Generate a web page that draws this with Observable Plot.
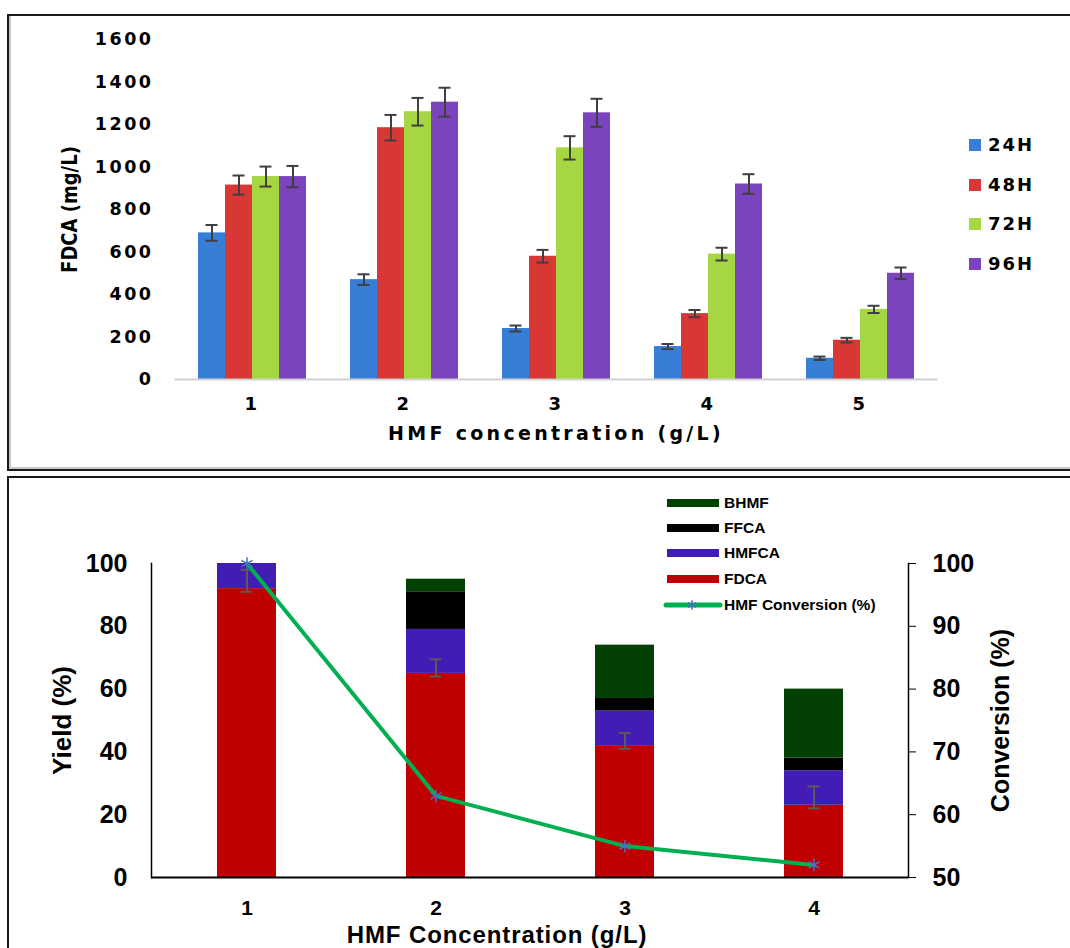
<!DOCTYPE html>
<html><head><meta charset="utf-8">
<script src="https://cdn.jsdelivr.net/npm/d3@7"></script>
<script src="https://cdn.jsdelivr.net/npm/@observablehq/plot@0.6"></script>
<style>
body{margin:0;background:#fff;width:1070px;height:948px;overflow:hidden;position:relative;}
#c1,#c2{position:absolute;left:0;}
#c1{top:0;} #c2{top:470px;}
.frameBox{position:absolute;box-sizing:border-box;pointer-events:none;z-index:5;}
#p1{left:7px;top:14px;width:1100px;height:457px;border:2px solid #1a1a1a;box-shadow:inset 2px 0 0 #c8c8c8, inset 0 -2px 0 #c8c8c8;}
#p2{left:7px;top:476px;width:1100px;height:520px;border:2px solid #1a1a1a;}
.leg{position:absolute;font-weight:bold;color:#000;white-space:nowrap;}
.leg1{font-family:'DejaVu Sans',sans-serif;font-size:18px;letter-spacing:2px;}
.leg2{font-family:'Liberation Sans',Arial,sans-serif;font-size:15.5px;}
.sw{position:absolute;}
</style>
</head><body>
<div id="c1"></div>
<div id="c2"></div>
<div id="legend1"></div>
<div id="legend2"></div>
<div class="frameBox" id="p1"></div>
<div class="frameBox" id="p2"></div>
<script>
// ---------- Top chart data ----------
const hmfConcTop = ["1","2","3","4","5"];
const times = ["24H","48H","72H","96H"];
const timeColors = ["#377fd6","#d93636","#a6d641","#7b43be"];
const fdca24 = [690, 470, 240, 155, 100];
const fdca48 = [915, 1185, 580, 310, 185];
const fdca72 = [955, 1260, 1090, 590, 330];
const fdca96 = [955, 1305, 1255, 920, 500];
const err24 = [37, 25, 14, 12, 8];
const err48 = [45, 60, 30, 17, 11];
const err72 = [47, 65, 55, 30, 17];
const err96 = [50, 68, 66, 46, 27];
const fdcaTicks = [0, 200, 400, 600, 800, 1000, 1200, 1400, 1600];

// ---------- Bottom chart data ----------
const hmfConcBottom = ["1","2","3","4"];
const products = ["FDCA","HMFCA","FFCA","BHMF"];
const productColors = ["#c00000","#421cb4","#000000","#034003"];
const yieldFDCA = [92, 65, 42, 23];
const yieldHMFCA = [8, 14, 11, 11];
const yieldFFCA = [0, 12, 4, 4];
const yieldBHMF = [0, 4, 17, 22];
const yieldErrLow = [91, 64, 41, 22];
const yieldErrHigh = [98, 69.5, 46, 29];
const conversion = [100, 63, 55, 52];
const yieldTicks = [0, 20, 40, 60, 80, 100];
const conversionTicks = [50, 60, 70, 80, 90, 100];
const legendOrder = ["BHMF","FFCA","HMFCA","FDCA"];

// ---------- Top chart ----------
const fdcaSeries = [fdca24, fdca48, fdca72, fdca96];
const errSeries = [err24, err48, err72, err96];
const topData = [];
hmfConcTop.forEach((c, i) => times.forEach((t, j) => {
  topData.push({cat: c, time: t, value: fdcaSeries[j][i], err: errSeries[j][i]});
}));

const topPlot = Plot.plot({
  width: 1070, height: 470,
  marginLeft: 195, marginRight: 154, marginTop: 39, marginBottom: 91,
  style: {background: "transparent", fontFamily: "'DejaVu Sans', sans-serif", fontWeight: "bold", fontSize: "17px", color: "#000", letterSpacing: "2.5px"},
  fx: {domain: hmfConcTop, paddingInner: 0.273, paddingOuter: 0, label: null},
  x: {domain: times, axis: null, padding: 0},
  y: {domain: [0, 1600], label: null},
  color: {domain: times, range: timeColors},
  marks: [
    Plot.barY(topData, {fx: "cat", x: "time", y: "value", fill: "time"}),
    Plot.ruleX(topData, {fx: "cat", x: "time", y1: d => d.value - d.err, y2: d => d.value + d.err, stroke: "#3f3f3f", strokeWidth: 2}),
    Plot.tickY(topData, {fx: "cat", x: "time", y: d => d.value - d.err, stroke: "#3f3f3f", strokeWidth: 2, inset: 7.5}),
    Plot.tickY(topData, {fx: "cat", x: "time", y: d => d.value + d.err, stroke: "#3f3f3f", strokeWidth: 2, inset: 7.5}),
    Plot.frame({anchor: "bottom", facet: "super", stroke: "#d2d2d2", strokeWidth: 2, insetLeft: -21, insetRight: -21}),
    Plot.axisY({anchor: "left", ticks: fdcaTicks, tickFormat: d => String(d), tickSize: 0, tickPadding: 43, label: null, fontSize: 17.5}),
    Plot.axisFx({anchor: "bottom", tickSize: 0, tickPadding: 18, label: null, fontSize: 18}),
    Plot.text(["FDCA (mg/L)"], {facet: "super", frameAnchor: "left", textAnchor: "middle", rotate: -90, dx: -126, fontSize: 18, fontWeight: "bold", fill: "#000"}),
    Plot.text(["HMF concentration (g/L)"], {facet: "super", frameAnchor: "bottom", textAnchor: "middle", lineAnchor: "middle", dy: 54, fontSize: 19, fontWeight: "bold", fill: "#000"})
  ]
});
document.getElementById("c1").append(topPlot);
d3.select(topPlot).selectAll("text").each(function() {
  const t = this.textContent;
  if (t === "FDCA (mg/L)") {
    this.style.letterSpacing = "0px";
    const tr = this.getAttribute("transform");
    if (tr) this.setAttribute("transform", tr + " scale(1,1.2)");
  }
  if (t === "HMF concentration (g/L)") this.style.letterSpacing = "3.3px";
});

// top legend
const leg1 = d3.select("#legend1");
times.forEach((t, j) => {
  const cy = 145 + j * 39.7;
  leg1.append("div").attr("class", "sw")
    .style("left", "969px").style("top", (cy - 6) + "px")
    .style("width", "12px").style("height", "12px").style("background", timeColors[j]);
  leg1.append("div").attr("class", "leg leg1")
    .style("left", "988px").style("top", (cy - 11) + "px").text(t);
});

// ---------- Bottom chart ----------
const yieldSeries = [yieldFDCA, yieldHMFCA, yieldFFCA, yieldBHMF];
const bottomData = [];
products.forEach((p, j) => hmfConcBottom.forEach((c, i) => {
  bottomData.push({cat: c, product: p, value: yieldSeries[j][i]});
}));
const errData = hmfConcBottom.map((c, i) => ({cat: c, lo: yieldErrLow[i], hi: yieldErrHigh[i]}));
const convData = hmfConcBottom.map((c, i) => ({cat: c, conv: conversion[i]}));
const convToY = c => (c - 50) * 2;

const bottomPlot = Plot.plot({
  width: 1070, height: 478,
  marginLeft: 151, marginRight: 162, marginTop: 93, marginBottom: 71,
  style: {background: "transparent", fontFamily: "'Liberation Sans', Arial, sans-serif", fontWeight: "bold", fontSize: "25px", color: "#000"},
  x: {domain: hmfConcBottom, paddingInner: 0.688, paddingOuter: 0.344, label: null},
  y: {domain: [0, 100], label: null},
  color: {domain: products, range: productColors},
  marks: [
    Plot.barY(bottomData, {x: "cat", y: "value", fill: "product"}),
    Plot.ruleX(errData, {x: "cat", y1: "lo", y2: "hi", stroke: "#5a5a5a", strokeWidth: 2}),
    Plot.tickY(errData, {x: "cat", y: "lo", stroke: "#5a5a5a", strokeWidth: 2, inset: 23.5}),
    Plot.tickY(errData, {x: "cat", y: "hi", stroke: "#5a5a5a", strokeWidth: 2, inset: 23.5}),
    Plot.line(convData, {x: "cat", y: d => convToY(d.conv), stroke: "#00b050", strokeWidth: 4}),
    Plot.dot(convData, {x: "cat", y: d => convToY(d.conv), symbol: "asterisk", stroke: "#4472c4", r: 6, strokeWidth: 1.5}),
    Plot.ruleY([0], {stroke: "#000", strokeWidth: 2}),
    Plot.frame({anchor: "left", stroke: "#000", strokeWidth: 1.5}),
    Plot.frame({anchor: "right", stroke: "#000", strokeWidth: 1.5}),
    Plot.axisY({anchor: "left", ticks: yieldTicks, tickSize: 0, tickPadding: 24, label: null, fontSize: 25}),
    Plot.axisY({anchor: "right", ticks: conversionTicks.map(convToY), tickFormat: d => String(50 + d / 2), tickSize: 7, tickPadding: 17, label: null, fontSize: 25}),
    Plot.axisX({anchor: "bottom", tickSize: 0, tickPadding: 23, label: null, fontSize: 21}),
    Plot.text(["Yield (%)"], {frameAnchor: "left", textAnchor: "middle", rotate: -90, dx: -89, fontSize: 26, fontWeight: "bold", fill: "#000"}),
    Plot.text(["Conversion (%)"], {frameAnchor: "right", textAnchor: "middle", rotate: -90, dx: 92, fontSize: 25, fontWeight: "bold", fill: "#000"}),
    Plot.text(["HMF Concentration (g/L)"], {frameAnchor: "bottom", textAnchor: "middle", lineAnchor: "middle", dx: -33, dy: 58, fontSize: 24, fontWeight: "bold", fill: "#000"})
  ]
});
document.getElementById("c2").append(bottomPlot);
d3.select(bottomPlot).selectAll("text").each(function() {
  if (this.textContent === "HMF Concentration (g/L)") this.style.letterSpacing = "0.9px";
});

// bottom legend
const leg2 = d3.select("#legend2");
const rowsY = [503, 528, 553, 579, 605];
legendOrder.forEach((p, k) => {
  const cy = rowsY[k];
  leg2.append("div").attr("class", "sw")
    .style("left", "667px").style("top", (cy - 4) + "px")
    .style("width", "52px").style("height", "8px")
    .style("background", productColors[products.indexOf(p)]);
  leg2.append("div").attr("class", "leg leg2")
    .style("left", "724px").style("top", (cy - 9) + "px").text(p);
});
{
  const cy = rowsY[4];
  const s = leg2.append("svg").attr("class", "sw")
    .style("left", "663px").style("top", (cy - 10) + "px")
    .attr("width", 60).attr("height", 20);
  s.append("line").attr("x1", 3).attr("x2", 57).attr("y1", 10).attr("y2", 10)
    .attr("stroke", "#00b050").attr("stroke-width", 5).attr("stroke-linecap", "round");
  s.append("path").attr("transform", "translate(29,10)")
    .attr("d", d3.symbol(d3.symbolAsterisk, 60)())
    .attr("fill", "none").attr("stroke", "#4472c4").attr("stroke-width", 1.5);
  leg2.append("div").attr("class", "leg leg2")
    .style("left", "724px").style("top", (cy - 9) + "px").text("HMF Conversion (%)");
}
</script>
</body></html>
